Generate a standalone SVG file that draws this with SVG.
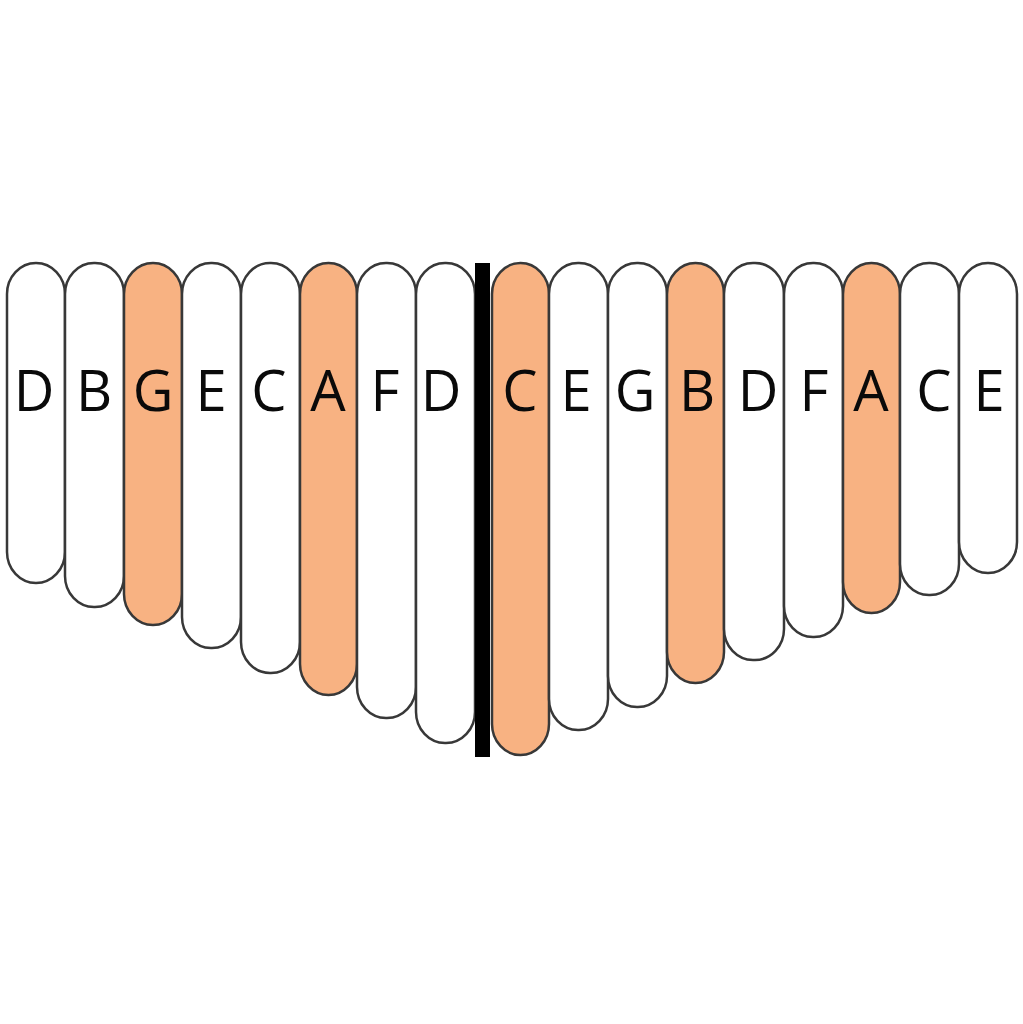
<svg xmlns="http://www.w3.org/2000/svg" width="1023" height="1024" viewBox="0 0 1023 1024">
<style>
.tine{fill:#ffffff;stroke:#383838;stroke-width:2.5}
.hl{fill:#F8B282}
.lbl{font-family:"Open Sans","Noto Sans","Liberation Sans",sans-serif;font-size:56px;fill:#0a0a0a;text-anchor:middle}
</style>
<rect width="1023" height="1024" fill="#ffffff"/>
<g id="tine-1"><rect class="tine" x="7" y="263" width="58" height="320" rx="29" ry="31"/><text class="lbl" x="34" y="411">D</text></g>
<g id="tine-2"><rect class="tine" x="65" y="263" width="59" height="344" rx="29" ry="31"/><text class="lbl" x="94" y="411">B</text></g>
<g id="tine-3"><rect class="tine hl" x="124" y="263" width="58" height="362" rx="29" ry="31"/><text class="lbl" x="153" y="411">G</text></g>
<g id="tine-4"><rect class="tine" x="182" y="263" width="59" height="385" rx="29" ry="31"/><text class="lbl" x="211" y="411">E</text></g>
<g id="tine-5"><rect class="tine" x="241" y="263" width="59" height="410" rx="29" ry="31"/><text class="lbl" x="269" y="411">C</text></g>
<g id="tine-6"><rect class="tine hl" x="300" y="263" width="57" height="432" rx="28.5" ry="31"/><text class="lbl" x="328" y="411">A</text></g>
<g id="tine-7"><rect class="tine" x="357" y="263" width="59" height="455" rx="29" ry="31"/><text class="lbl" x="385" y="411">F</text></g>
<g id="tine-8"><rect class="tine" x="416" y="263" width="59" height="480" rx="29" ry="31"/><text class="lbl" x="441" y="411">D</text></g>
<g id="tine-9"><rect class="tine hl" x="492" y="263" width="57" height="492" rx="28.5" ry="31"/><text class="lbl" x="520" y="411">C</text></g>
<g id="tine-10"><rect class="tine" x="549" y="263" width="59" height="467" rx="29" ry="31"/><text class="lbl" x="576" y="411">E</text></g>
<g id="tine-11"><rect class="tine" x="608" y="263" width="59" height="444" rx="29" ry="31"/><text class="lbl" x="635" y="411">G</text></g>
<g id="tine-12"><rect class="tine hl" x="667" y="263" width="57" height="420" rx="28.5" ry="31"/><text class="lbl" x="697" y="411">B</text></g>
<g id="tine-13"><rect class="tine" x="724" y="263" width="60" height="397" rx="29" ry="31"/><text class="lbl" x="758" y="411">D</text></g>
<g id="tine-14"><rect class="tine" x="784" y="263" width="59" height="374" rx="29" ry="31"/><text class="lbl" x="814" y="411">F</text></g>
<g id="tine-15"><rect class="tine hl" x="843" y="263" width="57" height="350" rx="28.5" ry="31"/><text class="lbl" x="871" y="411">A</text></g>
<g id="tine-16"><rect class="tine" x="900" y="263" width="59" height="332" rx="29" ry="31"/><text class="lbl" x="934" y="411">C</text></g>
<g id="tine-17"><rect class="tine" x="959" y="263" width="58" height="310" rx="29" ry="31"/><text class="lbl" x="989" y="411">E</text></g>
<g id="bridge"><rect x="475" y="263" width="15" height="494" fill="#000000"/></g>
</svg>
